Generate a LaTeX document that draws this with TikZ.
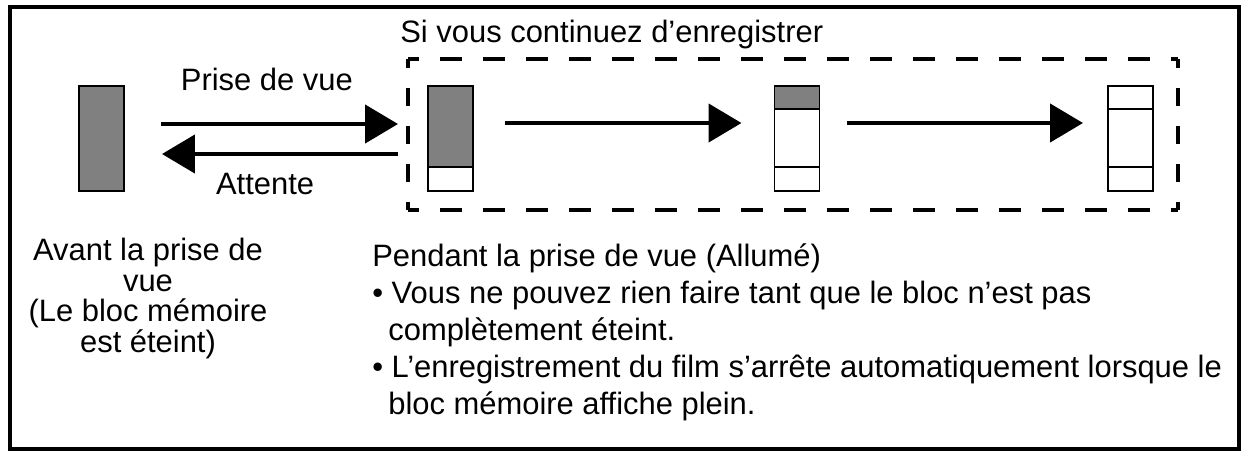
\documentclass[tikz,border=0pt]{standalone}
\usepackage{fontspec}
\setmainfont{Liberation Sans}
\usepackage{tikz}
\usetikzlibrary{arrows.meta,positioning}
\definecolor{memgray}{HTML}{808080}

\begin{document}
\begin{tikzpicture}[x=0.02cm,y=-0.02cm,
  every node/.style={font=\fontsize{17.6}{21}\selectfont,inner sep=0pt},
  seg/.style={draw,line width=1.1pt,outer sep=0pt,minimum width=0.9cm,fill=white},
  arr/.style={-{Triangle[length=0.66cm,width=0.76cm]},line width=2.6pt},
  dh/.style={line width=2.6pt,dash pattern=on 0.44cm off 0.42cm,dash phase=0.22cm},
  dv/.style={line width=2.6pt,dash pattern=on 0.36cm off 0.40cm,dash phase=0.18cm}]
  \path[use as bounding box,fill=white] (0,0) rectangle (1245,454);
  \draw[line width=2.6pt] (10,7) rectangle (1239,449);

  % memory blocks
  \node[seg,fill=memgray,minimum height=2.1cm] (m1) at (101.5,138.5) {};
  \node[seg,fill=memgray,minimum height=1.62cm,anchor=north] (m2a) at (450.5,86) {};
  \node[seg,minimum height=0.48cm,below=0pt of m2a] (m2b) {};
  \node[seg,fill=memgray,minimum height=0.46cm,anchor=north] (m3a) at (797,86) {};
  \node[seg,minimum height=1.16cm,below=0pt of m3a] (m3b) {};
  \node[seg,minimum height=0.48cm,below=0pt of m3b] (m3c) {};
  \node[seg,minimum height=0.46cm,anchor=north] (m4a) at (1130.5,86) {};
  \node[seg,minimum height=1.16cm,below=0pt of m4a] (m4b) {};
  \node[seg,minimum height=0.48cm,below=0pt of m4b] (m4c) {};

  % dashed frame
  \coordinate (dnw) at (408,59);
  \coordinate (dse) at (1178,210);
  \draw[dh] (dnw) -- (dnw -| dse);
  \draw[dh] (dnw |- dse) -- (dse);
  \draw[dv] (dnw) -- (dnw |- dse);
  \draw[dv] (dnw -| dse) -- (dse);
  \node[anchor=base west] (cont) at (400,42) {Si vous continuez d’enregistrer};

  % arrows
  \coordinate (upr) at (0,124);
  \coordinate (lwr) at (0,154);
  \coordinate (mid) at (0,123);
  \draw[arr,shorten <=0.74cm,shorten >=0.6cm] (m1.east |- upr) -- node[pos=0.47,above=0.62cm] {Prise de vue} (m2a.west |- upr);
  \draw[arr,shorten <=0.6cm,shorten >=0.76cm] (m2a.west |- lwr) -- node[pos=0.536,below=0.34cm] {Attente} (m1.east |- lwr);
  \draw[arr,shorten <=0.64cm,shorten >=0.66cm] (m2a.east |- mid) -- (m3a.west |- mid);
  \draw[arr,shorten <=0.56cm,shorten >=0.5cm] (m3a.east |- mid) -- (m4a.west |- mid);

  % captions
  \node[align=center,anchor=north,font=\fontsize{17.6}{17.4}\selectfont] (avant) at (148,238)
    {Avant la prise de\\vue\\(Le bloc mémoire\\est éteint)};
  \node[align=left,anchor=north west] (pendant) at (372,243.5)
    {Pendant la prise de vue (Allumé)\\
     • Vous ne pouvez rien faire tant que le bloc n’est pas\\
     \hspace*{0.32cm}complètement éteint.\\
     • L’enregistrement du film s’arrête automatiquement lorsque le\\
     \hspace*{0.32cm}bloc mémoire affiche plein.};
\end{tikzpicture}
\end{document}
